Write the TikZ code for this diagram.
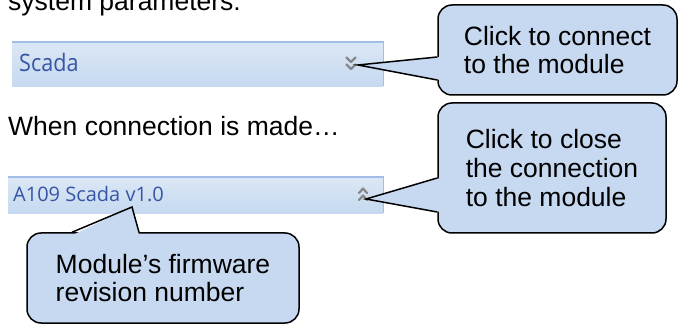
\documentclass[tikz,border=0pt]{standalone}
\usepackage{fontspec}
\setmainfont{Liberation Sans}
\newfontfamily\uifont{Open Sans}
\usepackage{graphicx}
\usetikzlibrary{calc}
\definecolor{calfill}{RGB}{198,217,241}
\definecolor{bartop}{RGB}{219,231,245}
\definecolor{barbot}{RGB}{197,217,240}
\definecolor{barline}{RGB}{160,190,230}
\definecolor{uiblue}{RGB}{55,85,165}
\definecolor{chevgray}{RGB}{135,135,135}
\begin{document}
\begin{tikzpicture}[x=1pt,y=-1pt,
  bigtext/.style={font=\fontsize{26.5}{28.7}\selectfont, inner sep=0pt},
  callout/.style={draw=black, line width=1.5pt, fill=calfill, rounded corners=14pt,
    align=left, inner sep=0pt, font=\fontsize{26.5}{28.7}\selectfont},
  bar/.style={top color=bartop, bottom color=barbot, draw=none, inner sep=0pt},
  baredge/.style={draw=barline, line width=1.5pt},
  uitext/.style={text=uiblue, inner sep=0pt},
  chev/.style={draw=chevgray, line width=2.2pt, line cap=round, line join=round},
  pointer/.style={draw=black, line width=1.5pt, line join=miter},
  pointerfill/.style={fill=calfill}]
\useasboundingbox (0,0) rectangle (681,326);
\clip (0,0) rectangle (681,326);

% top texts
\node[bigtext, anchor=base west] (t0) at (8,11) {system parameters:};
\node[bigtext, anchor=base west] (t1) at (8,136) {When connection is made…};

% bar 1
\node[bar, minimum width=371pt, minimum height=44pt, anchor=north west] (bar1) at (12,42) {};
\draw[baredge] (bar1.north west) -- (bar1.north east) -- (bar1.south east);
\node[uitext, anchor=base west, font=\uifont\fontsize{24}{28}\selectfont] (lbl1) at (19,72) {\scalebox{0.9}[1]{Scada}};
\draw[chev] (346.5,57.5) -- (351,62) -- (355.5,57.5);
\draw[chev] (346.5,64.5) -- (351,69) -- (355.5,64.5);
\coordinate (tip1) at (358,65);

% bar 2
\node[bar, minimum width=375pt, minimum height=36pt, anchor=north west] (bar2) at (8,177) {};
\draw[baredge] (bar2.north west) -- (bar2.north east) -- (bar2.south east);
\node[uitext, anchor=base west, font=\uifont\fontsize{20}{24}\selectfont] (lbl2) at (13,202) {A109 Scada v1.0};
\draw[chev] (359,193) -- (363,188.5) -- (367,193);
\draw[chev] (359,200) -- (363,195.5) -- (367,200);
\coordinate (tip2) at (366,199);
\coordinate (tip3) at (132,207);

% callout 1
\node[callout, minimum width=239pt, minimum height=90pt] (c1) at (557.5,50) {Click to connect\\to the module};
\coordinate (p1a) at ([yshift=-7pt]c1.west);
\coordinate (p1b) at ([yshift=-30pt]c1.west);
\fill[pointerfill] ([xshift=3pt]p1a) -- (tip1) -- ([xshift=3pt]p1b) -- cycle;
\draw[pointer] (p1a) -- (tip1) -- (p1b);

% callout 2
\node[callout, minimum width=228pt, minimum height=130pt] (c2) at (552,168) {Click to close\\the connection\\to the module};
\coordinate (p2a) at ([yshift=-10pt]c2.west);
\coordinate (p2b) at ([yshift=-44pt]c2.west);
\fill[pointerfill] ([xshift=3pt]p2a) -- (tip2) -- ([xshift=3pt]p2b) -- cycle;
\draw[pointer] (p2a) -- (tip2) -- (p2b);

% callout 3
\node[callout, minimum width=272pt, minimum height=90pt] (c3) at (163,278) {Module’s firmware\\revision number};
\coordinate (p3a) at ([xshift=-91pt]c3.north);
\coordinate (p3b) at ([xshift=-24pt]c3.north);
\fill[pointerfill] ([yshift=-3pt]p3a) -- (tip3) -- ([yshift=-3pt]p3b) -- cycle;
\draw[pointer] (p3a) -- (tip3) -- (p3b);
\end{tikzpicture}
\end{document}
